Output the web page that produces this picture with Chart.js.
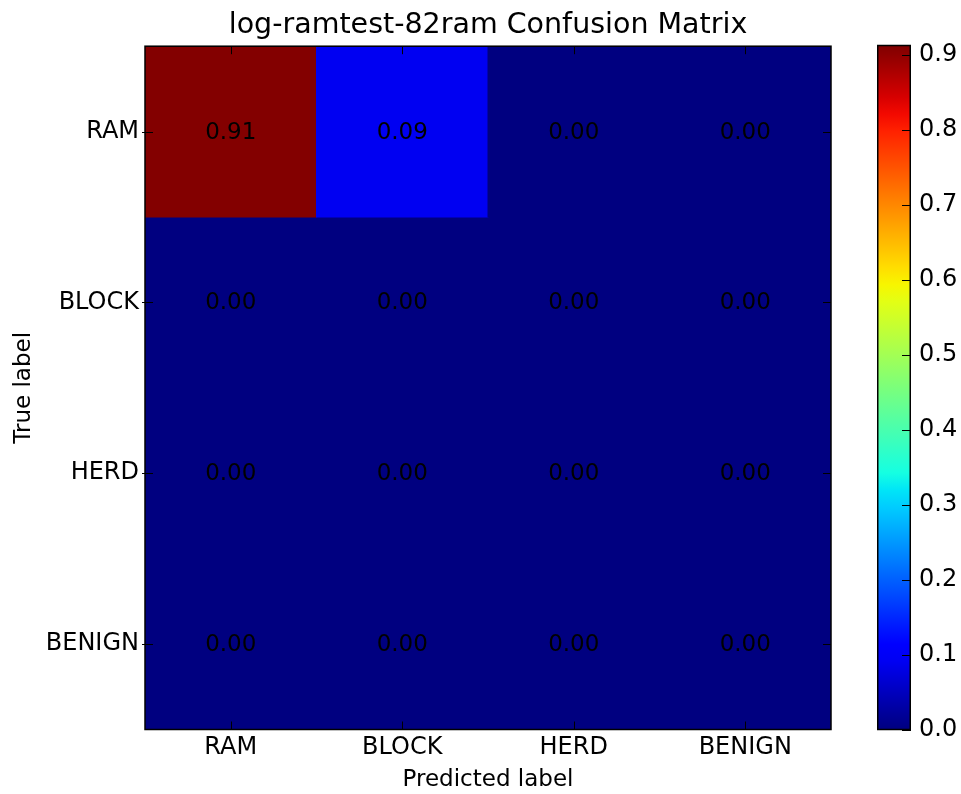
<!DOCTYPE html>
<html lang="en">
<head>
    <meta charset="UTF-8">
    <title>Confusion Matrix</title>
    <style>
        body {
            margin: 0;
            padding: 0;
            background: #fff;
        }
        #wrap {
            position: relative;
            width: 961px;
            height: 794px;
        }
        #matrixBox {
            position: absolute;
            left: 0;
            top: 0;
            width: 832px;
            height: 794px;
        }
        #barBox {
            position: absolute;
            left: 877px;
            top: 0;
            width: 84px;
            height: 794px;
        }
    </style>
    <script src="https://cdn.jsdelivr.net/npm/chart.js"></script>
</head>
<body>
    <div id="wrap">
        <div id="matrixBox"><canvas id="matrix"></canvas></div>
        <div id="barBox"><canvas id="colorbar"></canvas></div>
    </div>

    <script>
        const predictedLabels = ['RAM', 'BLOCK', 'HERD', 'BENIGN'];
        const trueLabels = ['RAM', 'BLOCK', 'HERD', 'BENIGN'];
        // one row per true label
        const rowRam = [0.91, 0.09, 0.00, 0.00];
        const rowBlock = [0.00, 0.00, 0.00, 0.00];
        const rowHerd = [0.00, 0.00, 0.00, 0.00];
        const rowBenign = [0.00, 0.00, 0.00, 0.00];
        const rows = [rowRam, rowBlock, rowHerd, rowBenign];
        const scaleMax = 0.913;
        const colorbarTicks = [0.0, 0.1, 0.2, 0.3, 0.4, 0.5, 0.6, 0.7, 0.8, 0.9];

        const FONT = 'DejaVu Sans';

        // matplotlib jet colormap
        function interp(pts, x) {
            for (let i = 1; i < pts.length; i++) {
                if (x <= pts[i][0]) {
                    const [x0, y0] = pts[i - 1];
                    const [x1, y1] = pts[i];
                    return y0 + (y1 - y0) * (x - x0) / (x1 - x0);
                }
            }
            return pts[pts.length - 1][1];
        }
        function jet(t) {
            t = Math.max(0, Math.min(1, t));
            const r = interp([[0, 0], [0.35, 0], [0.66, 1], [0.89, 1], [1, 0.5]], t);
            const g = interp([[0, 0], [0.125, 0], [0.375, 1], [0.64, 1], [0.91, 0], [1, 0]], t);
            const b = interp([[0, 0.5], [0.11, 1], [0.34, 1], [0.65, 0], [1, 0]], t);
            return `rgb(${Math.round(r * 255)},${Math.round(g * 255)},${Math.round(b * 255)})`;
        }

        // draws frame, inward ticks and cell numbers
        const matrixDecor = {
            id: 'matrixDecor',
            beforeDatasetsDraw(chart) {
                // base fill so no seams show between equal cells
                const a = chart.chartArea;
                chart.ctx.save();
                chart.ctx.fillStyle = jet(0);
                chart.ctx.fillRect(a.left, a.top, a.right - a.left, a.bottom - a.top);
                chart.ctx.restore();
            },
            afterDatasetsDraw(chart) {
                const c = chart.ctx;
                const a = chart.chartArea;
                const xs = chart.scales.x;
                const ys = chart.scales.y;
                c.save();
                c.fillStyle = '#000';
                c.font = `23px "${FONT}"`;
                c.textAlign = 'center';
                c.textBaseline = 'middle';
                rows.forEach((row, i) => {
                    row.forEach((v, j) => {
                        c.fillText(v.toFixed(2), xs.getPixelForValue(j), ys.getPixelForValue(i) + 1);
                    });
                });
                c.strokeStyle = '#000';
                c.lineWidth = 1;
                c.beginPath();
                predictedLabels.forEach((_, j) => {
                    const x = Math.round(xs.getPixelForValue(j)) + 0.5;
                    c.moveTo(x, a.top); c.lineTo(x, a.top + 8);
                    c.moveTo(x, a.bottom); c.lineTo(x, a.bottom - 8);
                });
                trueLabels.forEach((_, i) => {
                    const y = Math.round(ys.getPixelForValue(i)) + 0.5;
                    c.moveTo(a.left - 3, y); c.lineTo(a.left + 8, y);
                    c.moveTo(a.right, y); c.lineTo(a.right - 8, y);
                });
                c.stroke();
                c.lineWidth = 1.5;
                c.strokeRect(a.left, a.top, a.right - a.left, a.bottom - a.top);
                c.restore();
            }
        };

        const matrixChart = new Chart(document.getElementById('matrix'), {
            type: 'bar',
            data: {
                labels: predictedLabels,
                datasets: rows.map((row, i) => ({
                    label: trueLabels[i],
                    data: row.map(() => [i - 0.5, i + 0.5]),
                    backgroundColor: row.map(v => jet(v / scaleMax)),
                    borderWidth: 0,
                    inflateAmount: 0.5,
                    barPercentage: 1,
                    categoryPercentage: 1,
                    grouped: false
                }))
            },
            options: {
                responsive: true,
                maintainAspectRatio: false,
                animation: false,
                layout: { padding: { left: 0, right: 1, top: 0, bottom: 0 } },
                plugins: {
                    legend: { display: false },
                    tooltip: { enabled: false },
                    title: {
                        display: true,
                        fullSize: false,
                        text: 'log-ramtest-82ram Confusion Matrix',
                        color: '#000',
                        font: { family: FONT, size: 28.5, weight: 'normal' },
                        padding: { top: 8, bottom: 4 }
                    }
                },
                scales: {
                    x: {
                        grid: { display: false, drawTicks: false },
                        border: { display: false },
                        ticks: {
                            color: '#000',
                            padding: 4,
                            font: { family: FONT, size: 24 }
                        },
                        title: {
                            display: true,
                            text: 'Predicted label',
                            color: '#000',
                            font: { family: FONT, size: 23 },
                            padding: { top: 0, bottom: 0 }
                        },
                        afterFit(scale) { scale.height = 64.5; }
                    },
                    y: {
                        type: 'linear',
                        min: -0.5,
                        max: 3.5,
                        reverse: true,
                        grid: { display: false, drawTicks: false },
                        border: { display: false },
                        afterBuildTicks(scale) {
                            scale.ticks = trueLabels.map((_, i) => ({ value: i }));
                        },
                        ticks: {
                            color: '#000',
                            padding: 6,
                            font: { family: FONT, size: 24 },
                            callback: v => trueLabels[v]
                        },
                        title: {
                            display: true,
                            text: 'True label',
                            color: '#000',
                            font: { family: FONT, size: 23 },
                            padding: { top: 10, bottom: 0 }
                        },
                        afterFit(scale) { scale.width = 145; }
                    }
                }
            },
            plugins: [matrixDecor]
        });

        // colorbar
        const colorbarDecor = {
            id: 'colorbarDecor',
            afterDatasetsDraw(chart) {
                const c = chart.ctx;
                const a = chart.chartArea;
                const ys = chart.scales.y;
                c.save();
                c.strokeStyle = '#000';
                c.lineWidth = 1;
                c.beginPath();
                colorbarTicks.forEach(v => {
                    const y = Math.round(ys.getPixelForValue(v)) + 0.5;
                    c.moveTo(a.right, y); c.lineTo(a.right - 9, y);
                });
                c.stroke();
                c.lineWidth = 1.5;
                c.strokeRect(a.left + 0.75, a.top, a.right - a.left - 1.5, a.bottom - a.top);
                c.restore();
            }
        };

        new Chart(document.getElementById('colorbar'), {
            type: 'bar',
            data: {
                labels: ['scale'],
                datasets: [{
                    data: [[0, scaleMax]],
                    borderWidth: 0,
                    barPercentage: 1,
                    categoryPercentage: 1,
                    backgroundColor(ctx) {
                        const area = ctx.chart.chartArea;
                        if (!area) return '#000080';
                        const g = ctx.chart.ctx.createLinearGradient(0, area.bottom, 0, area.top);
                        for (let k = 0; k <= 40; k++) {
                            g.addColorStop(k / 40, jet(k / 40));
                        }
                        return g;
                    }
                }]
            },
            options: {
                responsive: true,
                maintainAspectRatio: false,
                animation: false,
                layout: { padding: { left: 0, right: 0, top: 45.5, bottom: 64.5 } },
                plugins: {
                    legend: { display: false },
                    tooltip: { enabled: false }
                },
                scales: {
                    x: { display: false },
                    y: {
                        position: 'right',
                        min: 0,
                        max: scaleMax,
                        grid: { display: false, drawTicks: false },
                        border: { display: false },
                        afterBuildTicks(scale) {
                            scale.ticks = colorbarTicks.map(v => ({ value: v }));
                        },
                        ticks: {
                            color: '#000',
                            padding: 8,
                            font: { family: FONT, size: 24 },
                            callback: v => v.toFixed(1)
                        },
                        afterFit(scale) { scale.width = 50; }
                    }
                }
            },
            plugins: [colorbarDecor]
        });
    </script>
</body>
</html>
